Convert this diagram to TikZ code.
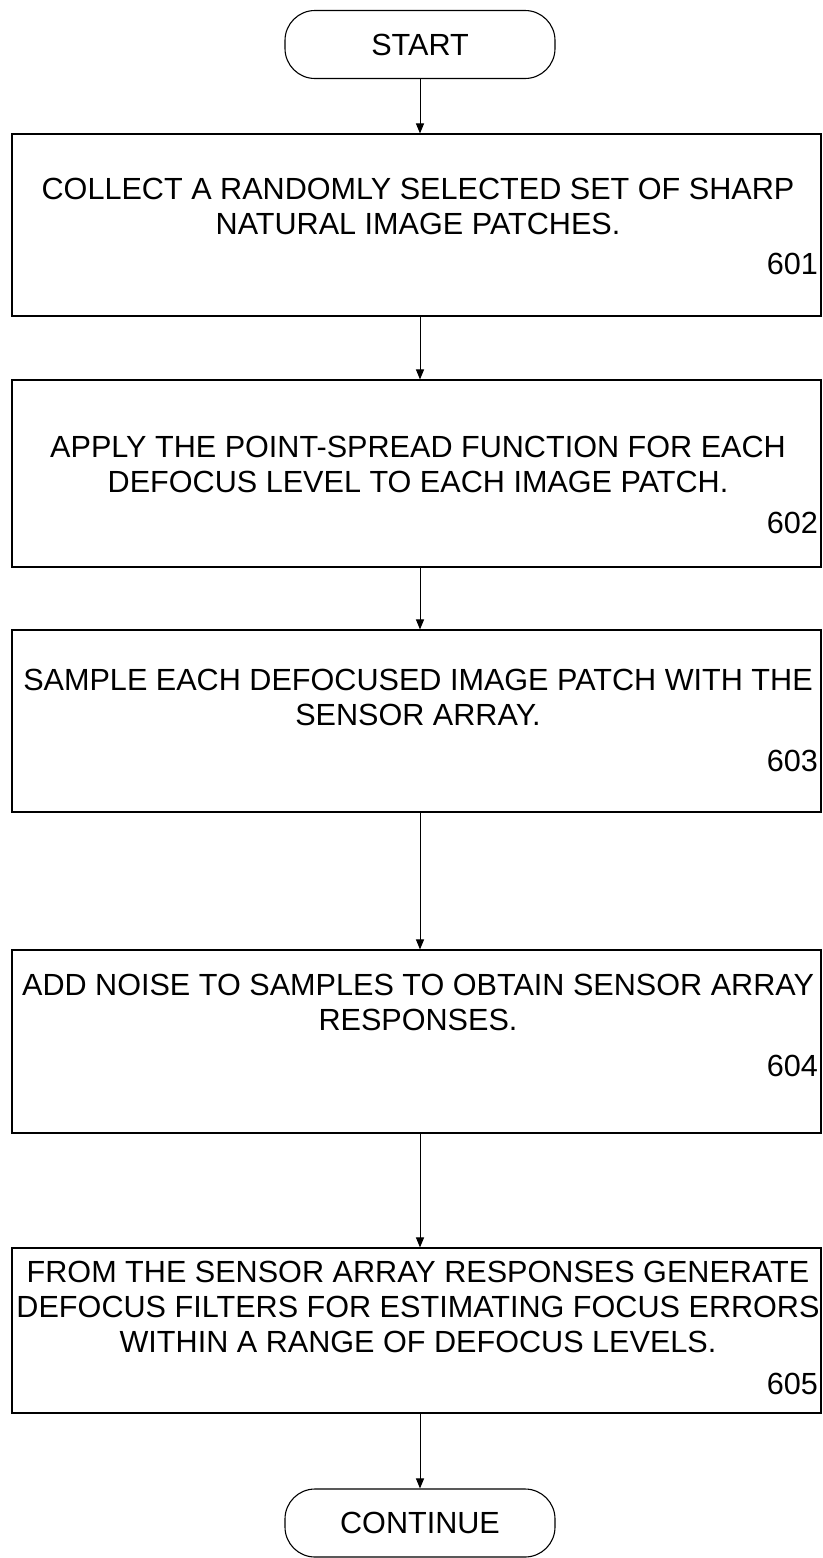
\documentclass[tikz,border=0pt]{standalone}
\usepackage{fontspec}
\setmainfont{Liberation Sans}
\usetikzlibrary{arrows.meta}
\begin{document}
\begin{tikzpicture}[x=1pt,y=1pt,
  box/.style={draw, line width=1.1pt, minimum width=809pt, inner sep=0pt},
  txt/.style={font=\fontsize{30.6}{35}\selectfont, align=center, inner sep=0pt, anchor=north},
  num/.style={font=\fontsize{30.6}{35}\selectfont, inner sep=0pt, anchor=base east},
  term/.style={draw, line width=1.1pt, rounded corners=30pt, minimum width=270pt, minimum height=68pt, inner sep=0pt, font=\fontsize{30.6}{35}\selectfont},
  conn/.style={line width=1pt, -{Triangle[length=10pt,width=8pt]}}]
\useasboundingbox (0,0) rectangle (822,-1558);
\node[term] (start) at (420,-44.5) {START};
\node[box, minimum height=182pt] (b1) at (416.5,-225) {};
\node[box, minimum height=187pt] (b2) at (416.5,-473.5) {};
\node[box, minimum height=182pt] (b3) at (416.5,-721) {};
\node[box, minimum height=183pt] (b4) at (416.5,-1041.5) {};
\node[box, minimum height=165pt] (b5) at (416.5,-1330.5) {};
\node[term] (cont) at (420,-1523) {CONTINUE};
\node[txt] (t1) at (418,-178) {COLLECT A RANDOMLY SELECTED SET OF SHARP\\NATURAL IMAGE PATCHES.};
\node[num] (n1) at (818,-274) {601};
\node[txt] (t2) at (418,-436) {APPLY THE POINT-SPREAD FUNCTION FOR EACH\\DEFOCUS LEVEL TO EACH IMAGE PATCH.};
\node[num] (n2) at (818,-533) {602};
\node[txt] (t3) at (418,-669) {SAMPLE EACH DEFOCUSED IMAGE PATCH WITH THE\\SENSOR ARRAY.};
\node[num] (n3) at (818,-771) {603};
\node[txt] (t4) at (418,-974) {ADD NOISE TO SAMPLES TO OBTAIN SENSOR ARRAY\\RESPONSES.};
\node[num] (n4) at (818,-1076) {604};
\node[txt] (t5) at (418,-1261) {FROM THE SENSOR ARRAY RESPONSES GENERATE\\DEFOCUS FILTERS FOR ESTIMATING FOCUS ERRORS\\WITHIN A RANGE OF DEFOCUS LEVELS.};
\node[num] (n5) at (818,-1394) {605};
\draw[conn] (start.south) -- (start.south |- b1.north);
\draw[conn] (start.south |- b1.south) -- (start.south |- b2.north);
\draw[conn] (start.south |- b2.south) -- (start.south |- b3.north);
\draw[conn] (start.south |- b3.south) -- (start.south |- b4.north);
\draw[conn] (start.south |- b4.south) -- (start.south |- b5.north);
\draw[conn] (start.south |- b5.south) -- (cont.north);
\end{tikzpicture}
\end{document}
